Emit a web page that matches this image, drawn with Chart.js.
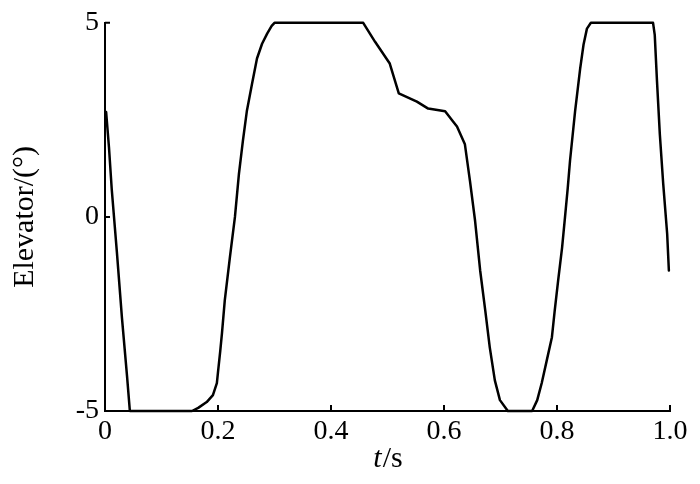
<!DOCTYPE html>
<html>
<head>
<meta charset="utf-8">
<script src="https://cdn.jsdelivr.net/npm/chart.js@4/dist/chart.umd.min.js"></script>
<style>
html,body{margin:0;padding:0;background:#fff;}
#wrap{width:700px;height:484px;}
</style>
</head>
<body>
<div id="wrap"><canvas id="c" width="700" height="484"></canvas></div>
<script>
const tValues = [0.002,0.007,0.012,0.021,0.030,0.039,0.044,0.154,0.165,0.180,0.191,0.198,0.200,0.204,0.207,0.212,0.221,0.230,0.237,0.244,0.251,0.260,0.269,0.278,0.287,0.295,0.300,0.457,0.478,0.504,0.520,0.552,0.572,0.602,0.616,0.623,0.637,0.646,0.655,0.664,0.673,0.681,0.690,0.699,0.713,0.756,0.765,0.773,0.782,0.791,0.796,0.802,0.809,0.814,0.819,0.823,0.832,0.841,0.847,0.853,0.860,0.970,0.973,0.977,0.982,0.988,0.995,0.998];
const elevatorValues = [2.7,1.8,0.7,-0.9,-2.6,-4.1,-5,-5,-4.92,-4.77,-4.59,-4.28,-4.0,-3.45,-3.0,-2.15,-1.05,0.0,1.10,1.95,2.72,3.41,4.08,4.46,4.72,4.92,5,5,4.51,3.95,3.18,2.97,2.79,2.72,2.46,2.33,1.87,0.92,-0.10,-1.38,-2.41,-3.36,-4.21,-4.72,-5,-5,-4.72,-4.28,-3.69,-3.10,-2.41,-1.64,-0.79,-0.03,0.74,1.44,2.72,3.82,4.44,4.85,5,5,4.69,3.49,2.13,0.85,-0.44,-1.38];
const xTickValues = [0,0.2,0.4,0.6,0.8,1.0];
const xTickLabels = ['0','0.2','0.4','0.6','0.8','1.0'];
const yTickValues = [-5,0,5];
const yTickLabels = ['-5','0','5'];
const yTitle = 'Elevator/(°)';
const xTitleItalic = 't';
const xTitleRest = '/s';

const points = tValues.map((t,i)=>({x:t,y:elevatorValues[i]}));
const FONT = '"Liberation Serif","Times New Roman",serif';

const inwardTicks = {
  id:'inwardTicks',
  afterDraw(chart){
    const ctx = chart.ctx;
    const xs = chart.scales.x, ys = chart.scales.y;
    const ca = chart.chartArea;
    ctx.save();
    ctx.strokeStyle = '#000';
    ctx.lineWidth = 2;
    ctx.beginPath();
    xTickValues.forEach(v=>{
      const px = xs.getPixelForValue(v);
      ctx.moveTo(px, ca.bottom);
      ctx.lineTo(px, ca.bottom - 6);
    });
    yTickValues.forEach(v=>{
      const py = ys.getPixelForValue(v);
      ctx.moveTo(ca.left, py);
      ctx.lineTo(ca.left + 5, py);
    });
    ctx.stroke();
    // x-axis title with italic t
    ctx.fillStyle = '#000';
    ctx.textBaseline = 'alphabetic';
    const italicFont = 'italic 30px ' + FONT;
    const normalFont = '30px ' + FONT;
    ctx.font = italicFont;
    const w1 = ctx.measureText(xTitleItalic).width;
    ctx.font = normalFont;
    const w2 = ctx.measureText(xTitleRest).width;
    const cx = (ca.left + ca.right)/2;
    const x0 = cx - (w1+w2)/2;
    const baseY = 467;
    ctx.font = italicFont;
    ctx.fillText(xTitleItalic, x0, baseY);
    ctx.font = normalFont;
    ctx.fillText(xTitleRest, x0 + w1 + 1, baseY);
    ctx.restore();
  }
};

new Chart(document.getElementById('c'), {
  type:'scatter',
  data:{datasets:[{
    data:points,
    showLine:true,
    borderColor:'#000',
    borderWidth:2.5,
    borderJoinStyle:'round',
    borderCapStyle:'round',
    pointRadius:0,
    tension:0,
    fill:false,
    clip:6
  }]},
  options:{
    responsive:false,
    animation:false,
    devicePixelRatio:1,
    layout:{padding:{left:0,top:21,right:30,bottom:0}},
    plugins:{legend:{display:false},tooltip:{enabled:false}},
    scales:{
      x:{
        type:'linear',min:0,max:1,
        afterBuildTicks(s){ s.ticks = xTickValues.map(v=>({value:v})); },
        afterFit(s){ s.height = 73; },
        grid:{display:true,drawOnChartArea:false,drawTicks:false},
        border:{display:true,color:'#000',width:2},
        ticks:{
          color:'#000',padding:4,maxRotation:0,autoSkip:false,
          font:{family:FONT,size:28},
          callback:(v,i)=>xTickLabels[i]
        },
        title:{display:false}
      },
      y:{
        type:'linear',min:-5,max:5,
        afterBuildTicks(s){ s.ticks = yTickValues.map(v=>({value:v})); },
        afterFit(s){ s.width = 105; },
        grid:{display:true,drawOnChartArea:false,drawTicks:false},
        border:{display:true,color:'#000',width:2},
        ticks:{
          color:'#000',padding:6,autoSkip:false,
          font:{family:FONT,size:28},
          callback:(v,i)=>yTickLabels[i]
        },
        title:{display:true,text:yTitle,color:'#000',font:{family:FONT,size:30},padding:{top:7,bottom:0}}
      }
    }
  },
  plugins:[inwardTicks]
});
</script>
</body>
</html>
